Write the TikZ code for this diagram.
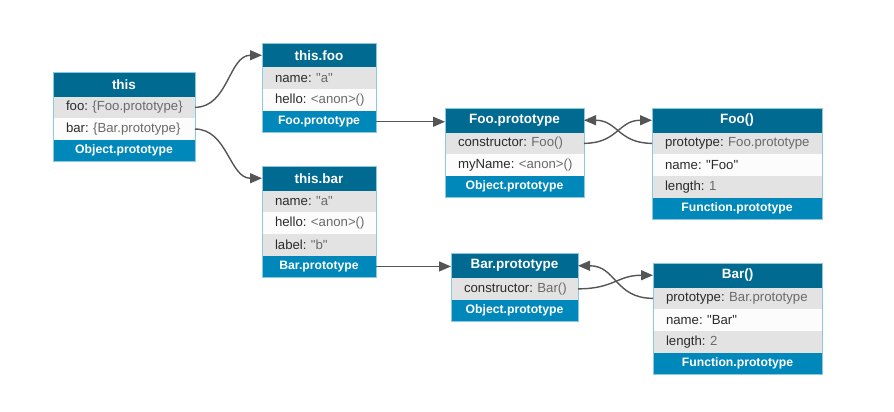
\documentclass[tikz,border=0pt]{standalone}
\usepackage{fontspec}
\setmainfont{Liberation Sans}
\usetikzlibrary{arrows.meta}
\definecolor{hdrblue}{HTML}{006A91}
\definecolor{objblue}{HTML}{0088BB}
\definecolor{rowgray}{HTML}{E3E3E3}
\definecolor{rowwhite}{HTML}{FCFCFC}
\definecolor{boxline}{HTML}{8CC8E0}
\definecolor{keytext}{HTML}{2B2B2B}
\definecolor{valtext}{HTML}{6A6A6A}
\definecolor{conncol}{HTML}{555555}
\newcommand\pval[1]{\textcolor{valtext}{#1}}
\newcommand\pad{\hspace*{13pt}}
\newcommand\dq{\textquotedbl}
\frenchspacing
\tikzset{
  cell/.style={anchor=north west, inner xsep=0pt, inner ysep=0pt, outer sep=0pt, minimum height=21.7pt},
  bw/.style={text width=#1},
  hdr/.style={cell, fill=hdrblue, text=white, font=\bfseries\fontsize{13.5}{15}\selectfont, minimum height=24.5pt, align=center},
  rowg/.style={cell, fill=rowgray, text=keytext, font=\fontsize{13.2}{15}\selectfont, align=left},
  roww/.style={cell, fill=rowwhite, text=keytext, font=\fontsize{13.2}{15}\selectfont, align=left},
  objrow/.style={cell, fill=objblue, text=white, font=\bfseries\fontsize{12.2}{14}\selectfont, align=center},
  outline/.style={draw=boxline, line width=0.8pt},
  conn/.style={draw=conncol, line width=1.4pt, -{Triangle[length=12pt,width=10pt]}},
}
\begin{document}
\begin{tikzpicture}[x=1pt,y=-1pt]
\useasboundingbox (0,0) rectangle (894,412);

% this
\node[hdr, bw=142pt] (this) at (53,72) {this};
\node[rowg, bw=142pt] (this-foo) at (this.south west) {\pad foo: \pval{\{Foo.prototype\}}};
\node[roww, bw=142pt] (this-bar) at (this-foo.south west) {\pad bar: \pval{\{Bar.prototype\}}};
\node[objrow, bw=142pt] (this-obj) at (this-bar.south west) {Object.prototype};
\draw[outline] (this.north west) rectangle (this-obj.south east);

% this.foo
\node[hdr, bw=114pt] (tf) at (262,43) {this.foo};
\node[rowg, bw=114pt] (tf-name) at (tf.south west) {\pad name: \pval{\dq a\dq}};
\node[roww, bw=114pt] (tf-hello) at (tf-name.south west) {\pad hello: \pval{<anon>()}};
\node[objrow, bw=114pt] (tf-proto) at (tf-hello.south west) {Foo.prototype};
\draw[outline] (tf.north west) rectangle (tf-proto.south east);

% this.bar
\node[hdr, bw=114pt] (tb) at (262,166) {this.bar};
\node[rowg, bw=114pt] (tb-name) at (tb.south west) {\pad name: \pval{\dq a\dq}};
\node[roww, bw=114pt] (tb-hello) at (tb-name.south west) {\pad hello: \pval{<anon>()}};
\node[rowg, bw=114pt] (tb-label) at (tb-hello.south west) {\pad label: \pval{\dq b\dq}};
\node[objrow, bw=114pt] (tb-proto) at (tb-label.south west) {Bar.prototype};
\draw[outline] (tb.north west) rectangle (tb-proto.south east);

% Foo.prototype
\node[hdr, bw=139pt] (fp) at (445,108) {Foo.prototype};
\node[rowg, bw=139pt] (fp-ctor) at (fp.south west) {\pad constructor: \pval{Foo()}};
\node[roww, bw=139pt] (fp-my) at (fp-ctor.south west) {\pad myName: \pval{<anon>()}};
\node[objrow, bw=139pt] (fp-obj) at (fp-my.south west) {Object.prototype};
\draw[outline] (fp.north west) rectangle (fp-obj.south east);

% Foo()
\node[hdr, bw=170pt] (foo) at (652,108) {Foo()};
\node[rowg, bw=170pt] (foo-proto) at (foo.south west) {\pad prototype: \pval{Foo.prototype}};
\node[roww, bw=170pt] (foo-name) at (foo-proto.south west) {\pad name: \dq Foo\dq};
\node[rowg, bw=170pt] (foo-len) at (foo-name.south west) {\pad length: \pval{1}};
\node[objrow, bw=170pt] (foo-fn) at (foo-len.south west) {Function.prototype};
\draw[outline] (foo.north west) rectangle (foo-fn.south east);

% Bar.prototype
\node[hdr, bw=127pt] (bp) at (451,253.5) {Bar.prototype};
\node[rowg, bw=127pt] (bp-ctor) at (bp.south west) {\pad constructor: \pval{Bar()}};
\node[objrow, bw=127pt] (bp-obj) at (bp-ctor.south west) {Object.prototype};
\draw[outline] (bp.north west) rectangle (bp-obj.south east);

% Bar()
\node[hdr, bw=169pt] (bar) at (653,263) {Bar()};
\node[rowg, bw=169pt] (bar-proto) at (bar.south west) {\pad prototype: \pval{Bar.prototype}};
\node[roww, bw=169pt] (bar-name) at (bar-proto.south west) {\pad name: \dq Bar\dq};
\node[rowg, bw=169pt] (bar-len) at (bar-name.south west) {\pad length: \pval{2}};
\node[objrow, bw=169pt] (bar-fn) at (bar-len.south west) {Function.prototype};
\draw[outline] (bar.north west) rectangle (bar-fn.south east);

% connectors
\draw[conn] (this-foo.east) to[out=0,in=180] (tf.west);
\draw[conn] (this-bar.east) to[out=0,in=180] (tb.west);
\draw[conn] (tf-proto.east) -- (tf-proto.east -| fp.west);
\draw[conn] (tb-proto.east) -- (tb-proto.east -| bp.west);
\draw[conn] (fp-ctor.east) to[out=0,in=180,looseness=1.2] (foo.west);
\draw[conn] (foo-proto.west) to[out=180,in=0,looseness=1.2] (fp.east);
\draw[conn] (bp-ctor.east) to[out=0,in=180,looseness=1.2] (bar.west);
\draw[conn] (bar-proto.west) to[out=180,in=0,looseness=1.2] (bp.east);
\end{tikzpicture}
\end{document}
